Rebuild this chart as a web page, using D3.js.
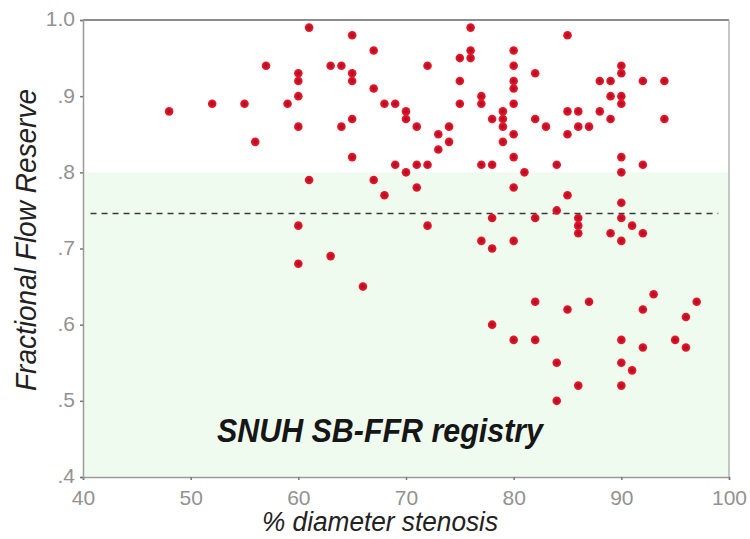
<!DOCTYPE html>
<html>
<head>
<meta charset="utf-8">
<script src="https://cdn.jsdelivr.net/npm/d3@7"></script>
<style>
  html, body { margin: 0; padding: 0; background: #fff; }
  svg { display: block; }
</style>
</head>
<body>
<div id="chart"></div>
<script>
// % diameter stenosis and FFR for each lesion
const stenosis = [
  48, 52, 55, 56, 57, 59,
  60, 60, 60, 60, 60, 60,
  61, 61, 63, 63, 64, 64,
  65, 65, 65, 65, 65, 66,
  67, 67, 67, 68, 68, 69, 69,
  70, 70, 70, 71, 71, 71, 72, 72, 72,
  73, 73, 74, 74, 75, 75, 75,
  76, 76, 76, 77, 77, 77, 77,
  78, 78, 78, 78, 78, 79, 79, 79, 79,
  80, 80, 80, 80, 80, 80, 80, 80, 80, 80,
  81, 82, 82, 82, 82, 82, 83,
  84, 84, 84, 84, 85, 85, 85, 85, 85,
  86, 86, 86, 86, 86, 86, 87, 87,
  88, 88, 89, 89, 89, 89,
  90, 90, 90, 90, 90, 90, 90, 90, 90, 90, 90, 90,
  91, 91, 92, 92, 92, 92, 92, 93, 94, 94, 95, 96, 96, 97
];
const ffr = [
  .88, .89, .89, .84, .94, .89,
  .93, .92, .90, .86, .73, .68,
  .99, .79, .94, .69, .94, .86,
  .98, .93, .92, .87, .82, .65,
  .96, .91, .79, .89, .77, .89, .81,
  .88, .87, .80, .86, .81, .78, .94, .81, .73,
  .85, .83, .86, .84, .95, .92, .89,
  .99, .96, .95, .90, .89, .81, .71,
  .87, .81, .74, .70, .60, .88, .87, .86, .84,
  .96, .94, .92, .91, .89, .85, .82, .78, .71, .58,
  .80, .93, .87, .74, .63, .58, .86,
  .81, .75, .55, .50, .98, .88, .85, .77, .62,
  .88, .86, .74, .73, .72, .52, .86, .63,
  .92, .88, .92, .90, .87, .72,
  .94, .93, .90, .89, .82, .80, .76, .74, .71, .58, .55, .52,
  .73, .54, .92, .81, .72, .62, .57, .64, .92, .87, .58, .61, .57, .63
];

const xTicks = [40, 50, 60, 70, 80, 90, 100];
const yTicks = [.4, .5, .6, .7, .8, .9, 1.0];
const yTickLabels = ['.4', '.5', '.6', '.7', '.8', '.9', '1.0'];
const cutoff = 0.746;      // dashed line
const greyZoneTop = 0.8;   // top of the green band

class ScatterPlot {
  constructor(container) {
    this.svg = container.append('svg').attr('width', 750).attr('height', 539);
    this.margin = { left: 83, right: 21, top: 20, bottom: 62 };
    this.width = 750 - this.margin.left - this.margin.right;
    this.height = 539 - this.margin.top - this.margin.bottom;

    this.xScale = d3.scaleLinear().domain([40, 100]).range([0, this.width]);
    this.yScale = d3.scaleLinear().domain([0.4, 1.0]).range([this.height, 0]);

    this.points = stenosis.map((s, i) => ({ x: s, y: ffr[i] }));
    this.g = this.svg.append('g')
      .attr('transform', `translate(${this.margin.left}, ${this.margin.top})`);
  }

  drawFrame() {
    let defs = this.svg.append('defs');
    let grad = defs.append('radialGradient').attr('id', 'dot');
    grad.append('stop').attr('offset', '0%').attr('stop-color', '#961230');
    grad.append('stop').attr('offset', '45%').attr('stop-color', '#c8102a');
    grad.append('stop').attr('offset', '100%').attr('stop-color', '#f21a22');

    this.g.append('rect')
      .attr('x', 0)
      .attr('y', this.yScale(greyZoneTop))
      .attr('width', this.width)
      .attr('height', this.yScale(0.4) - this.yScale(greyZoneTop))
      .attr('fill', '#f0fbf0');

    this.g.append('line')
      .attr('x1', 0).attr('x2', this.width)
      .attr('y1', 0).attr('y2', 0)
      .attr('stroke', '#8c8c8c')
      .attr('stroke-width', 2);

    this.g.append('line')
      .attr('x1', this.width).attr('x2', this.width)
      .attr('y1', 0).attr('y2', this.height)
      .attr('stroke', '#b4b4b4')
      .attr('stroke-width', 1.5);

    this.g.append('line')
      .attr('x1', this.xScale(40.7)).attr('x2', this.xScale(99))
      .attr('y1', this.yScale(cutoff)).attr('y2', this.yScale(cutoff))
      .attr('stroke', '#3a3a3a')
      .attr('stroke-width', 1.5)
      .attr('stroke-dasharray', '6,5');
  }

  drawAxes() {
    let xAxis = d3.axisBottom(this.xScale).tickValues(xTicks).tickSize(3).tickPadding(10);
    let yAxis = d3.axisLeft(this.yScale).tickValues(yTicks).tickSize(3).tickPadding(5)
      .tickFormat((d, i) => yTickLabels[i]);

    let xg = this.g.append('g').attr('transform', `translate(0, ${this.height})`).call(xAxis);
    let yg = this.g.append('g').call(yAxis);

    [xg, yg].forEach(ax => {
      ax.select('.domain').attr('stroke', '#9a9a9a').attr('stroke-width', 1.5);
      ax.selectAll('.tick line').attr('stroke', '#777').attr('stroke-width', 1.5);
      ax.selectAll('.tick text')
        .attr('fill', '#929292')
        .style('font-family', '"Liberation Sans", Arial, sans-serif')
        .style('font-size', '21px');
    });
    yg.selectAll('.tick text').attr('dy', '0.28em');

    this.svg.append('text')
      .attr('transform', 'translate(36, 240) rotate(-90)')
      .attr('text-anchor', 'middle')
      .attr('textLength', 302)
      .attr('lengthAdjust', 'spacingAndGlyphs')
      .attr('fill', '#222')
      .style('font-family', '"Liberation Sans", Arial, sans-serif')
      .style('font-style', 'italic')
      .style('font-size', '30px')
      .text('Fractional Flow Reserve');

    this.svg.append('text')
      .attr('x', 380)
      .attr('y', 531)
      .attr('text-anchor', 'middle')
      .attr('textLength', 236)
      .attr('lengthAdjust', 'spacingAndGlyphs')
      .attr('fill', '#222')
      .style('font-family', '"Liberation Sans", Arial, sans-serif')
      .style('font-style', 'italic')
      .style('font-size', '27px')
      .text('% diameter stenosis');

    this.svg.append('text')
      .attr('x', 217)
      .attr('y', 442)
      .attr('textLength', 326)
      .attr('lengthAdjust', 'spacingAndGlyphs')
      .attr('fill', '#161616')
      .style('font-family', '"Liberation Sans", Arial, sans-serif')
      .style('font-style', 'italic')
      .style('font-weight', 'bold')
      .style('font-size', '34px')
      .text('SNUH SB-FFR registry');
  }

  drawPoints() {
    this.g.append('g')
      .selectAll('circle')
      .data(this.points)
      .join('circle')
      .attr('cx', d => this.xScale(d.x))
      .attr('cy', d => this.yScale(d.y))
      .attr('r', 4.3)
      .attr('fill', 'url(#dot)');
  }

  render() {
    this.drawFrame();
    this.drawAxes();
    this.drawPoints();
  }
}

new ScatterPlot(d3.select('#chart')).render();
</script>
</body>
</html>
